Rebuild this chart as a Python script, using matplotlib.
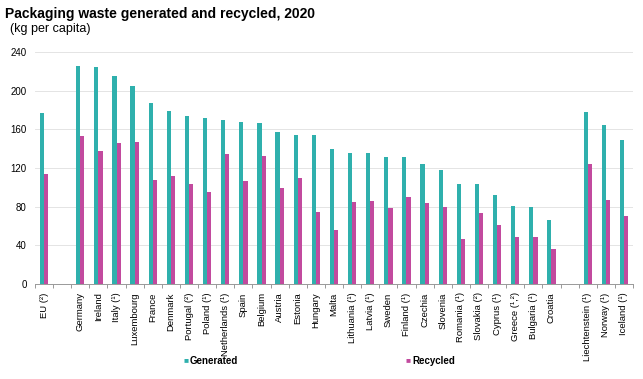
import numpy as np
import matplotlib.pyplot as plt

plt.rcParams['font.family'] = ['Liberation Sans', 'DejaVu Sans']

# categories ('' = empty gap slots)
countries = ['EU (²)', '', 'Germany', 'Ireland', 'Italy (¹)', 'Luxembourg', 'France',
             'Denmark', 'Portugal (²)', 'Poland (¹)', 'Netherlands (¹)', 'Spain',
             'Belgium', 'Austria', 'Estonia', 'Hungary', 'Malta', 'Lithuania (¹)',
             'Latvia (¹)', 'Sweden', 'Finland (¹)', 'Czechia', 'Slovenia',
             'Romania (¹)', 'Slovakia (²)', 'Cyprus (¹)', 'Greece (¹,²)',
             'Bulgaria (¹)', 'Croatia', '', 'Liechtenstein (¹)', 'Norway (¹)',
             'Iceland (¹)']
generated = [177, np.nan, 225.5, 224, 215.5, 205, 187, 179, 174, 172, 170, 168,
             167, 157, 154.5, 154.5, 139.7, 136, 136, 131.7, 131, 124, 118,
             103.5, 103.5, 92, 81, 79.6, 65.9, np.nan, 178, 165, 148.6]
recycled = [113.5, np.nan, 153.4, 138, 145.5, 147, 108, 112, 103.5, 95, 134, 107,
            132, 99.6, 110, 74, 55.5, 84.5, 85.5, 79, 90, 84, 80,
            46.5, 73.8, 60.7, 48.3, 48.3, 35.9, np.nan, 124.5, 86.5, 70]

c_gen = '#2fb0ad'
c_rec = '#c24a9e'

fig = plt.figure(figsize=(6.43, 3.79), dpi=100)
ax = fig.add_axes([35/643, 95/379, 598/643, 232/379])

x = np.arange(len(countries))
w = 0.23
ax.bar(x - w/2, generated, width=w, color=c_gen, label='Generated', zorder=3)
ax.bar(x + w/2, recycled, width=w, color=c_rec, label='Recycled', zorder=3)

ax.set_xlim(-0.5, len(countries) - 0.5)
ax.set_ylim(0, 240)
ax.set_yticks(range(0, 241, 40))
ax.tick_params(axis='y', length=0, labelsize=7, pad=6)
ax.grid(axis='y', color='#e4e4e4', linewidth=0.7, zorder=0)

ax.set_xticks(x)
ax.set_xticklabels(countries, rotation=90, fontsize=6.8)
ax.tick_params(axis='x', length=0, pad=6)
ax.set_xticks(np.arange(-0.5, len(countries), 1), minor=True)
ax.tick_params(axis='x', which='minor', length=3, color='#999999', width=0.7)

for s in ['top', 'right', 'left']:
    ax.spines[s].set_visible(False)
ax.spines['bottom'].set_color('#999999')
ax.spines['bottom'].set_linewidth(0.7)

fig.text(5/643, 1 - 14/379, 'Packaging waste generated and recycled, 2020',
         fontsize=10, fontweight='bold', va='center', ha='left')
fig.text(10/643, 1 - 29/379, '(kg per capita)', fontsize=9, va='center', ha='left')

# legend entries
fig.text(183/643, 1 - 361/379, '■', color=c_gen, fontsize=6, va='center', ha='left')
fig.text(190/643, 1 - 361/379, 'Generated', fontsize=7, fontweight='bold',
         va='center', ha='left')
fig.text(405/643, 1 - 361/379, '■', color=c_rec, fontsize=6, va='center', ha='left')
fig.text(412/643, 1 - 361/379, 'Recycled', fontsize=7, fontweight='bold',
         va='center', ha='left')

fig.savefig('out.png', dpi=100)
